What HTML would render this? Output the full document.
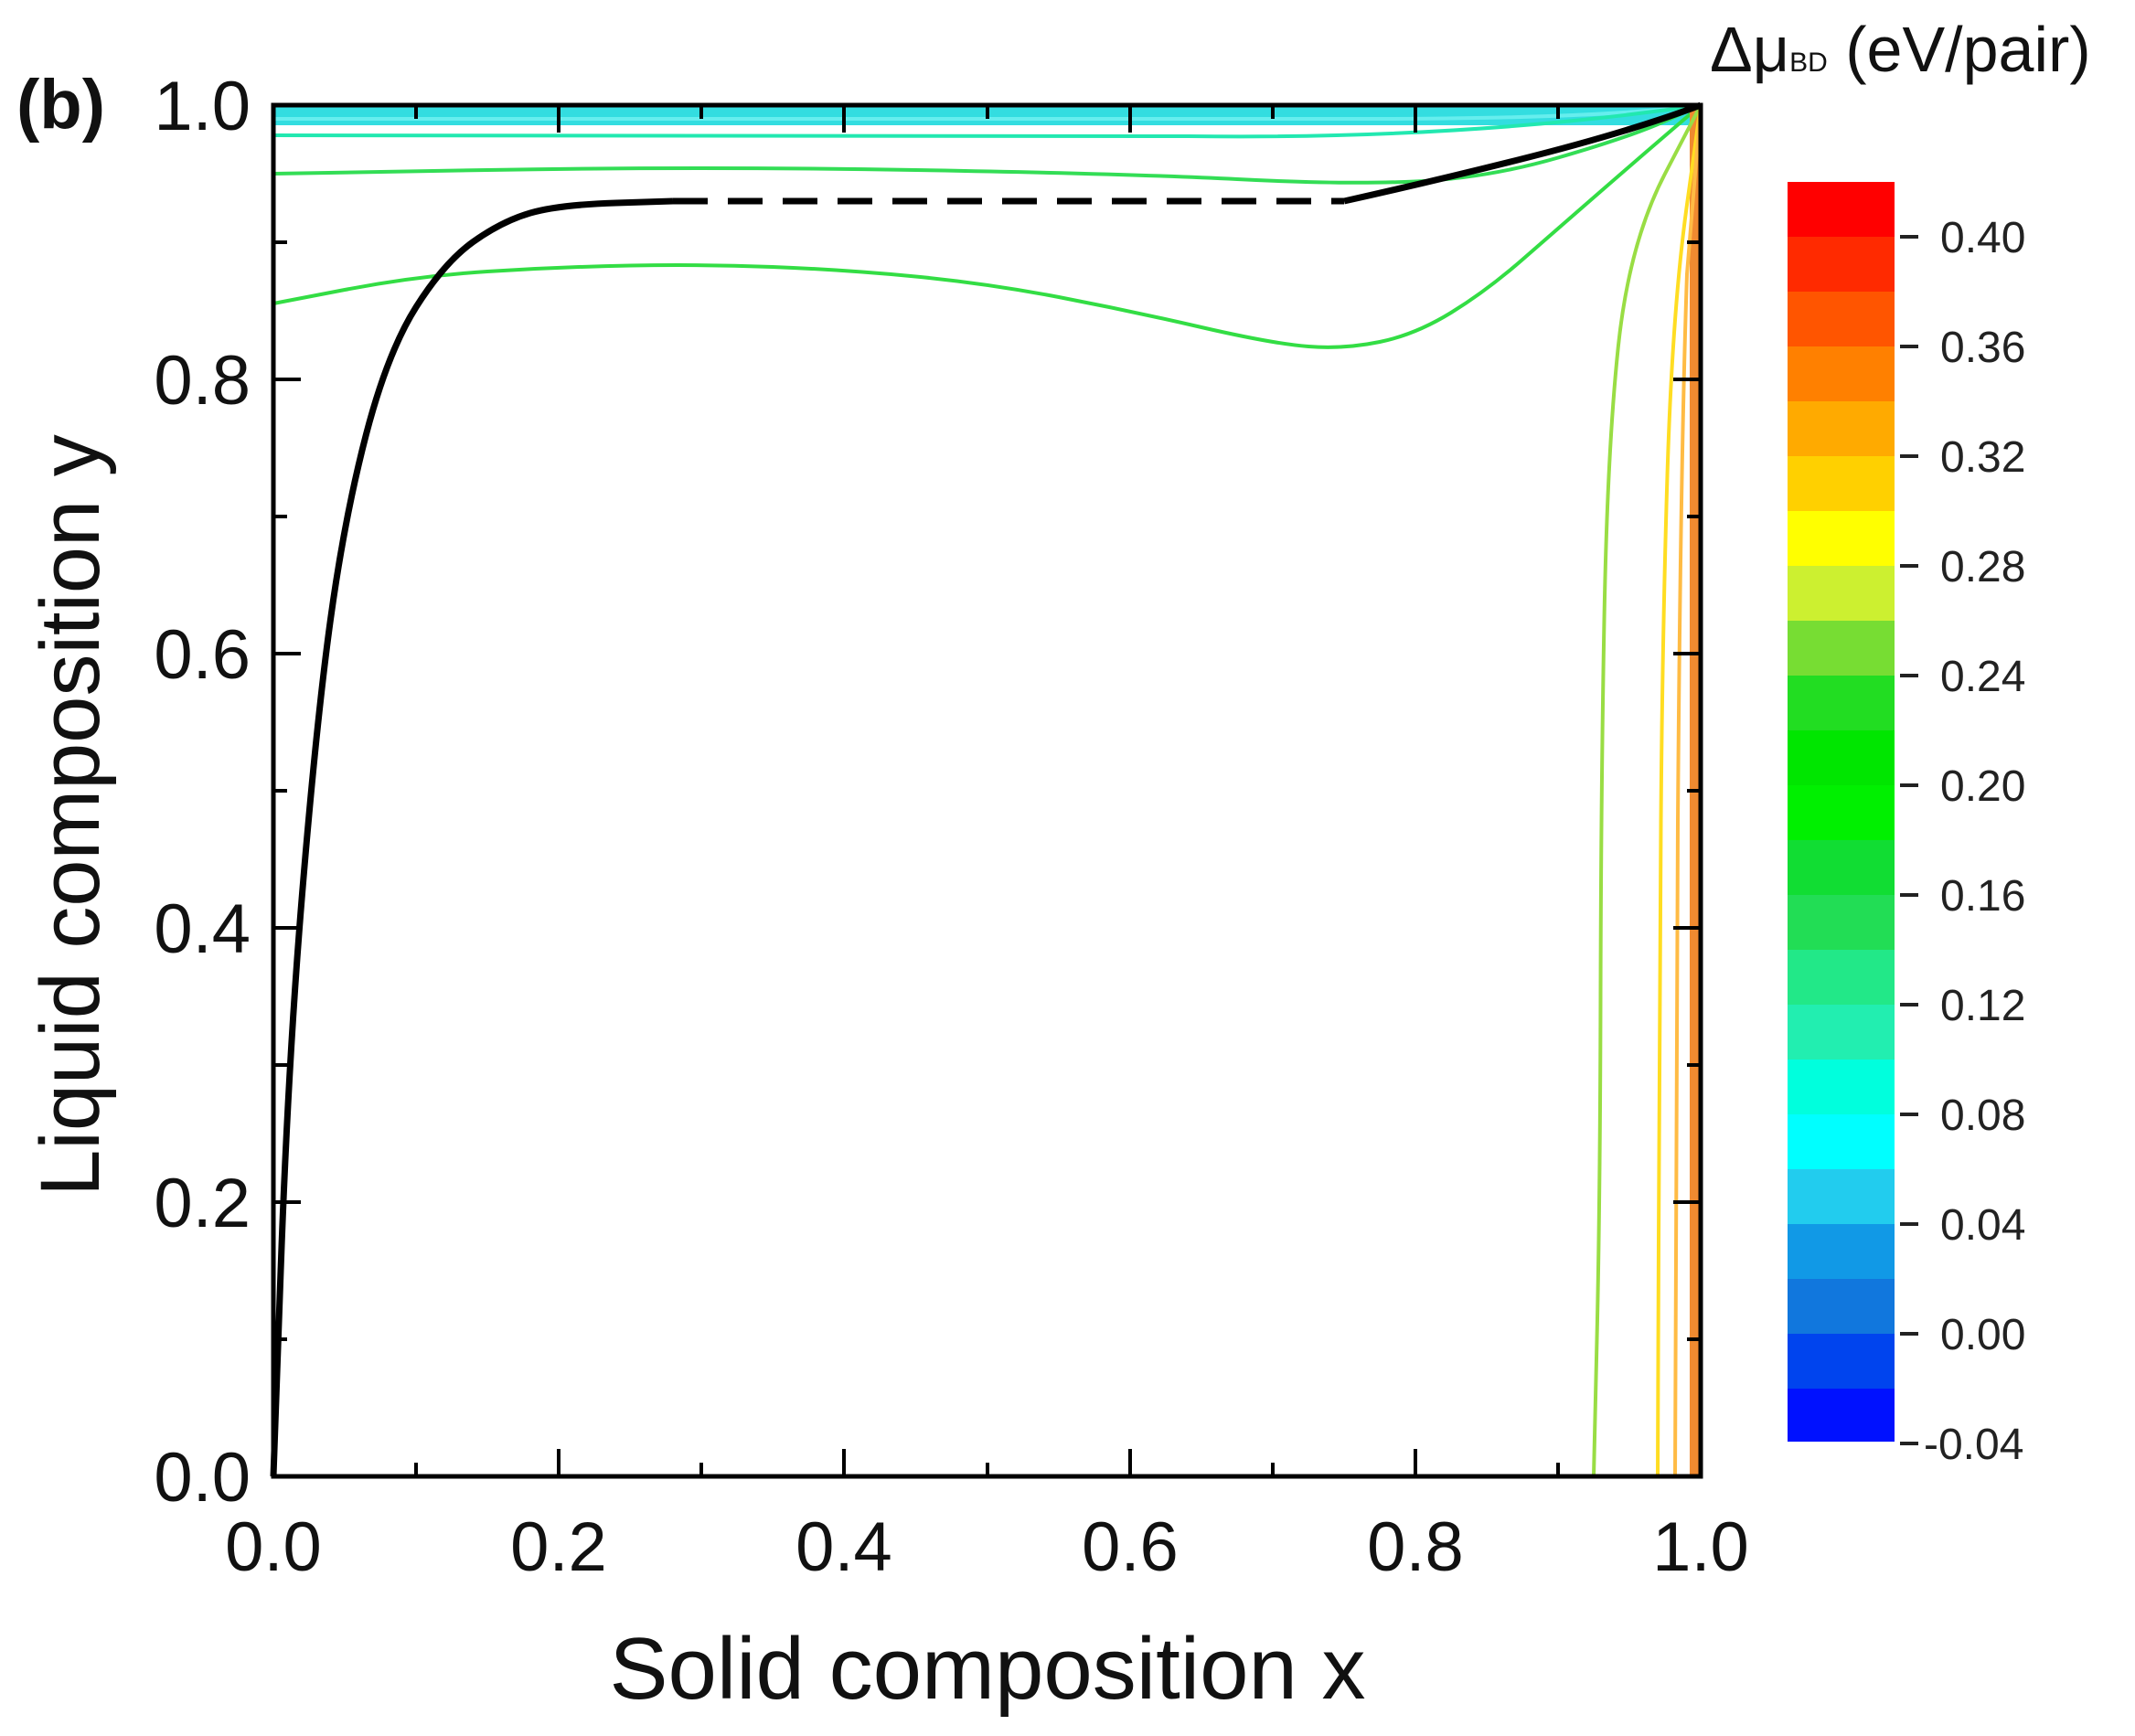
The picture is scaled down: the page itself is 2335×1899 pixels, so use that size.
<!DOCTYPE html>
<html><head><style>body{margin:0;background:#fff}svg{display:block}</style></head><body>
<svg width="2335" height="1899" viewBox="0 0 2335 1899" xmlns="http://www.w3.org/2000/svg" font-family="Liberation Sans, sans-serif">
<rect width="2335" height="1899" fill="#fff"/>
<rect x="299" y="115" width="1561" height="22" fill="#33dde0"/>
<path d="M299,130 L1500,130 Q1750,130 1860,115" fill="none" stroke="#66eeee" stroke-width="4"/>
<path d="M299,148 L1300,149 Q1600,153 1860,115" fill="none" stroke="#22e8b0" stroke-width="4"/>
<path d="M299,190 L533,186 Q767,182 1001.5,186 Q1236,190 1353,196 Q1470,202 1548,198.5 Q1626,195 1704,172.5 Q1782,150 1821,132.5 L1860,115" fill="none" stroke="#33dd55" stroke-width="4"/>
<path d="M299,332 L377,317 Q455,302 533,297 Q611,292 689,290.5 Q767,289 845,292 Q923,295 1001.5,302.5 Q1080,310 1158,325 Q1236,340 1314,358 Q1392,376 1431,379 Q1470,382 1509,374 Q1548,366 1587,342 Q1626,318 1665,284 Q1704,250 1743,216 Q1782,182 1821,148.5 L1860,115" fill="none" stroke="#33dd44" stroke-width="4"/>
<rect x="1848" y="115" width="12" height="1500" fill="#f08a30"/>
<path d="M1743,1615 L1746.5,1465 Q1750,1315 1750.5,1090 Q1751,865 1754.5,677.5 Q1758,490 1770,377.5 Q1782,265 1821,190 L1860,115" fill="none" stroke="#99dd44" stroke-width="4"/>
<path d="M1813,1615 L1814,1357 Q1815,1100 1816.5,900 Q1818,700 1823.5,520 Q1829,340 1844.5,227.5 L1860,115" fill="none" stroke="#ffdd22" stroke-width="4"/>
<path d="M1832,1615 L1835,900 Q1838,500 1845,300 L1860,115" fill="none" stroke="#ffbb44" stroke-width="4"/>
<path d="M299,1615 L307,1390 Q315,1165 330.5,977.5 Q346,790 361.5,677.5 Q377,565 400.5,475 Q424,385 455,336 Q486,287 517.5,264.5 Q549,242 580,233 Q611,224 673.5,222 L736,220" fill="none" stroke="#000" stroke-width="7" stroke-linejoin="round"/>
<line x1="736" y1="220" x2="1470" y2="220" stroke="#000" stroke-width="7" stroke-dasharray="38,22"/>
<path d="M1470,220 Q1560,200 1660,175 Q1780,145 1860,115" fill="none" stroke="#000" stroke-width="7"/>
<rect x="299" y="115" width="1561" height="1500" fill="none" stroke="#000" stroke-width="5"/>
<g stroke="#000" stroke-width="4">
<line x1="455" y1="1615" x2="455" y2="1600"/><line x1="611" y1="1615" x2="611" y2="1585"/><line x1="767" y1="1615" x2="767" y2="1600"/><line x1="923" y1="1615" x2="923" y2="1585"/><line x1="1080" y1="1615" x2="1080" y2="1600"/><line x1="1236" y1="1615" x2="1236" y2="1585"/><line x1="1392" y1="1615" x2="1392" y2="1600"/><line x1="1548" y1="1615" x2="1548" y2="1585"/><line x1="1704" y1="1615" x2="1704" y2="1600"/>
<line x1="455" y1="115" x2="455" y2="130"/><line x1="611" y1="115" x2="611" y2="145"/><line x1="767" y1="115" x2="767" y2="130"/><line x1="923" y1="115" x2="923" y2="145"/><line x1="1080" y1="115" x2="1080" y2="130"/><line x1="1236" y1="115" x2="1236" y2="145"/><line x1="1392" y1="115" x2="1392" y2="130"/><line x1="1548" y1="115" x2="1548" y2="145"/><line x1="1704" y1="115" x2="1704" y2="130"/>
<line x1="299" y1="1465" x2="314" y2="1465"/><line x1="299" y1="1315" x2="329" y2="1315"/><line x1="299" y1="1165" x2="314" y2="1165"/><line x1="299" y1="1015" x2="329" y2="1015"/><line x1="299" y1="865" x2="314" y2="865"/><line x1="299" y1="715" x2="329" y2="715"/><line x1="299" y1="565" x2="314" y2="565"/><line x1="299" y1="415" x2="329" y2="415"/><line x1="299" y1="265" x2="314" y2="265"/>
<line x1="1860" y1="1465" x2="1845" y2="1465"/><line x1="1860" y1="1315" x2="1830" y2="1315"/><line x1="1860" y1="1165" x2="1845" y2="1165"/><line x1="1860" y1="1015" x2="1830" y2="1015"/><line x1="1860" y1="865" x2="1845" y2="865"/><line x1="1860" y1="715" x2="1830" y2="715"/><line x1="1860" y1="565" x2="1845" y2="565"/><line x1="1860" y1="415" x2="1830" y2="415"/><line x1="1860" y1="265" x2="1845" y2="265"/>
</g>
<g font-size="76" fill="#111" text-anchor="middle">
<text x="299" y="1718">0.0</text><text x="611" y="1718">0.2</text><text x="923" y="1718">0.4</text><text x="1236" y="1718">0.6</text><text x="1548" y="1718">0.8</text><text x="1860" y="1718">1.0</text>
</g>
<g font-size="76" fill="#111" text-anchor="end">
<text x="274" y="1642">0.0</text><text x="274" y="1342">0.2</text><text x="274" y="1042">0.4</text><text x="274" y="742">0.6</text><text x="274" y="442">0.8</text><text x="274" y="142">1.0</text>
</g>
<text x="18" y="140" font-size="76" font-weight="bold" fill="#111">(b)</text>
<text x="1080" y="1858" font-size="96" text-anchor="middle" fill="#111">Solid composition x</text>
<text transform="translate(108,892) rotate(-90)" font-size="92" text-anchor="middle" fill="#111">Liquid composition y</text>
<g>
<rect x="1955" y="199" width="117" height="61" fill="#ff0000"/>
<rect x="1955" y="259" width="117" height="61" fill="#ff2a00"/>
<rect x="1955" y="319" width="117" height="61" fill="#ff5500"/>
<rect x="1955" y="379" width="117" height="61" fill="#ff8000"/>
<rect x="1955" y="439" width="117" height="61" fill="#ffaa00"/>
<rect x="1955" y="499" width="117" height="61" fill="#ffd000"/>
<rect x="1955" y="559" width="117" height="61" fill="#ffff00"/>
<rect x="1955" y="619" width="117" height="61" fill="#ccf030"/>
<rect x="1955" y="679" width="117" height="61" fill="#77dd33"/>
<rect x="1955" y="739" width="117" height="61" fill="#22dd22"/>
<rect x="1955" y="799" width="117" height="61" fill="#00e600"/>
<rect x="1955" y="859" width="117" height="61" fill="#00f000"/>
<rect x="1955" y="919" width="117" height="61" fill="#11dd33"/>
<rect x="1955" y="979" width="117" height="61" fill="#22dd55"/>
<rect x="1955" y="1039" width="117" height="61" fill="#22e888"/>
<rect x="1955" y="1099" width="117" height="61" fill="#22eeb0"/>
<rect x="1955" y="1159" width="117" height="61" fill="#00ffdd"/>
<rect x="1955" y="1219" width="117" height="61" fill="#00ffff"/>
<rect x="1955" y="1279" width="117" height="61" fill="#22ccee"/>
<rect x="1955" y="1339" width="117" height="61" fill="#1199e6"/>
<rect x="1955" y="1399" width="117" height="61" fill="#1177dd"/>
<rect x="1955" y="1459" width="117" height="61" fill="#0044ee"/>
<rect x="1955" y="1519" width="117" height="58" fill="#0011ff"/>
</g>
<g stroke="#222" stroke-width="4">
<line x1="2078" y1="259" x2="2098" y2="259"/><line x1="2078" y1="379" x2="2098" y2="379"/><line x1="2078" y1="499" x2="2098" y2="499"/><line x1="2078" y1="619" x2="2098" y2="619"/><line x1="2078" y1="739" x2="2098" y2="739"/><line x1="2078" y1="859" x2="2098" y2="859"/><line x1="2078" y1="979" x2="2098" y2="979"/><line x1="2078" y1="1099" x2="2098" y2="1099"/><line x1="2078" y1="1219" x2="2098" y2="1219"/><line x1="2078" y1="1339" x2="2098" y2="1339"/><line x1="2078" y1="1459" x2="2098" y2="1459"/><line x1="2078" y1="1579" x2="2098" y2="1579"/>
</g>
<g font-size="48" fill="#222">
<text x="2122" y="276">0.40</text><text x="2122" y="396">0.36</text><text x="2122" y="516">0.32</text><text x="2122" y="636">0.28</text><text x="2122" y="756">0.24</text><text x="2122" y="876">0.20</text><text x="2122" y="996">0.16</text><text x="2122" y="1116">0.12</text><text x="2122" y="1236">0.08</text><text x="2122" y="1356">0.04</text><text x="2122" y="1476">0.00</text><text x="2104" y="1596">-0.04</text>
</g>
<text x="1870" y="78" font-size="70" fill="#111">Δμ<tspan font-size="30">BD</tspan> (eV/pair)</text>
</svg>
</body></html>
